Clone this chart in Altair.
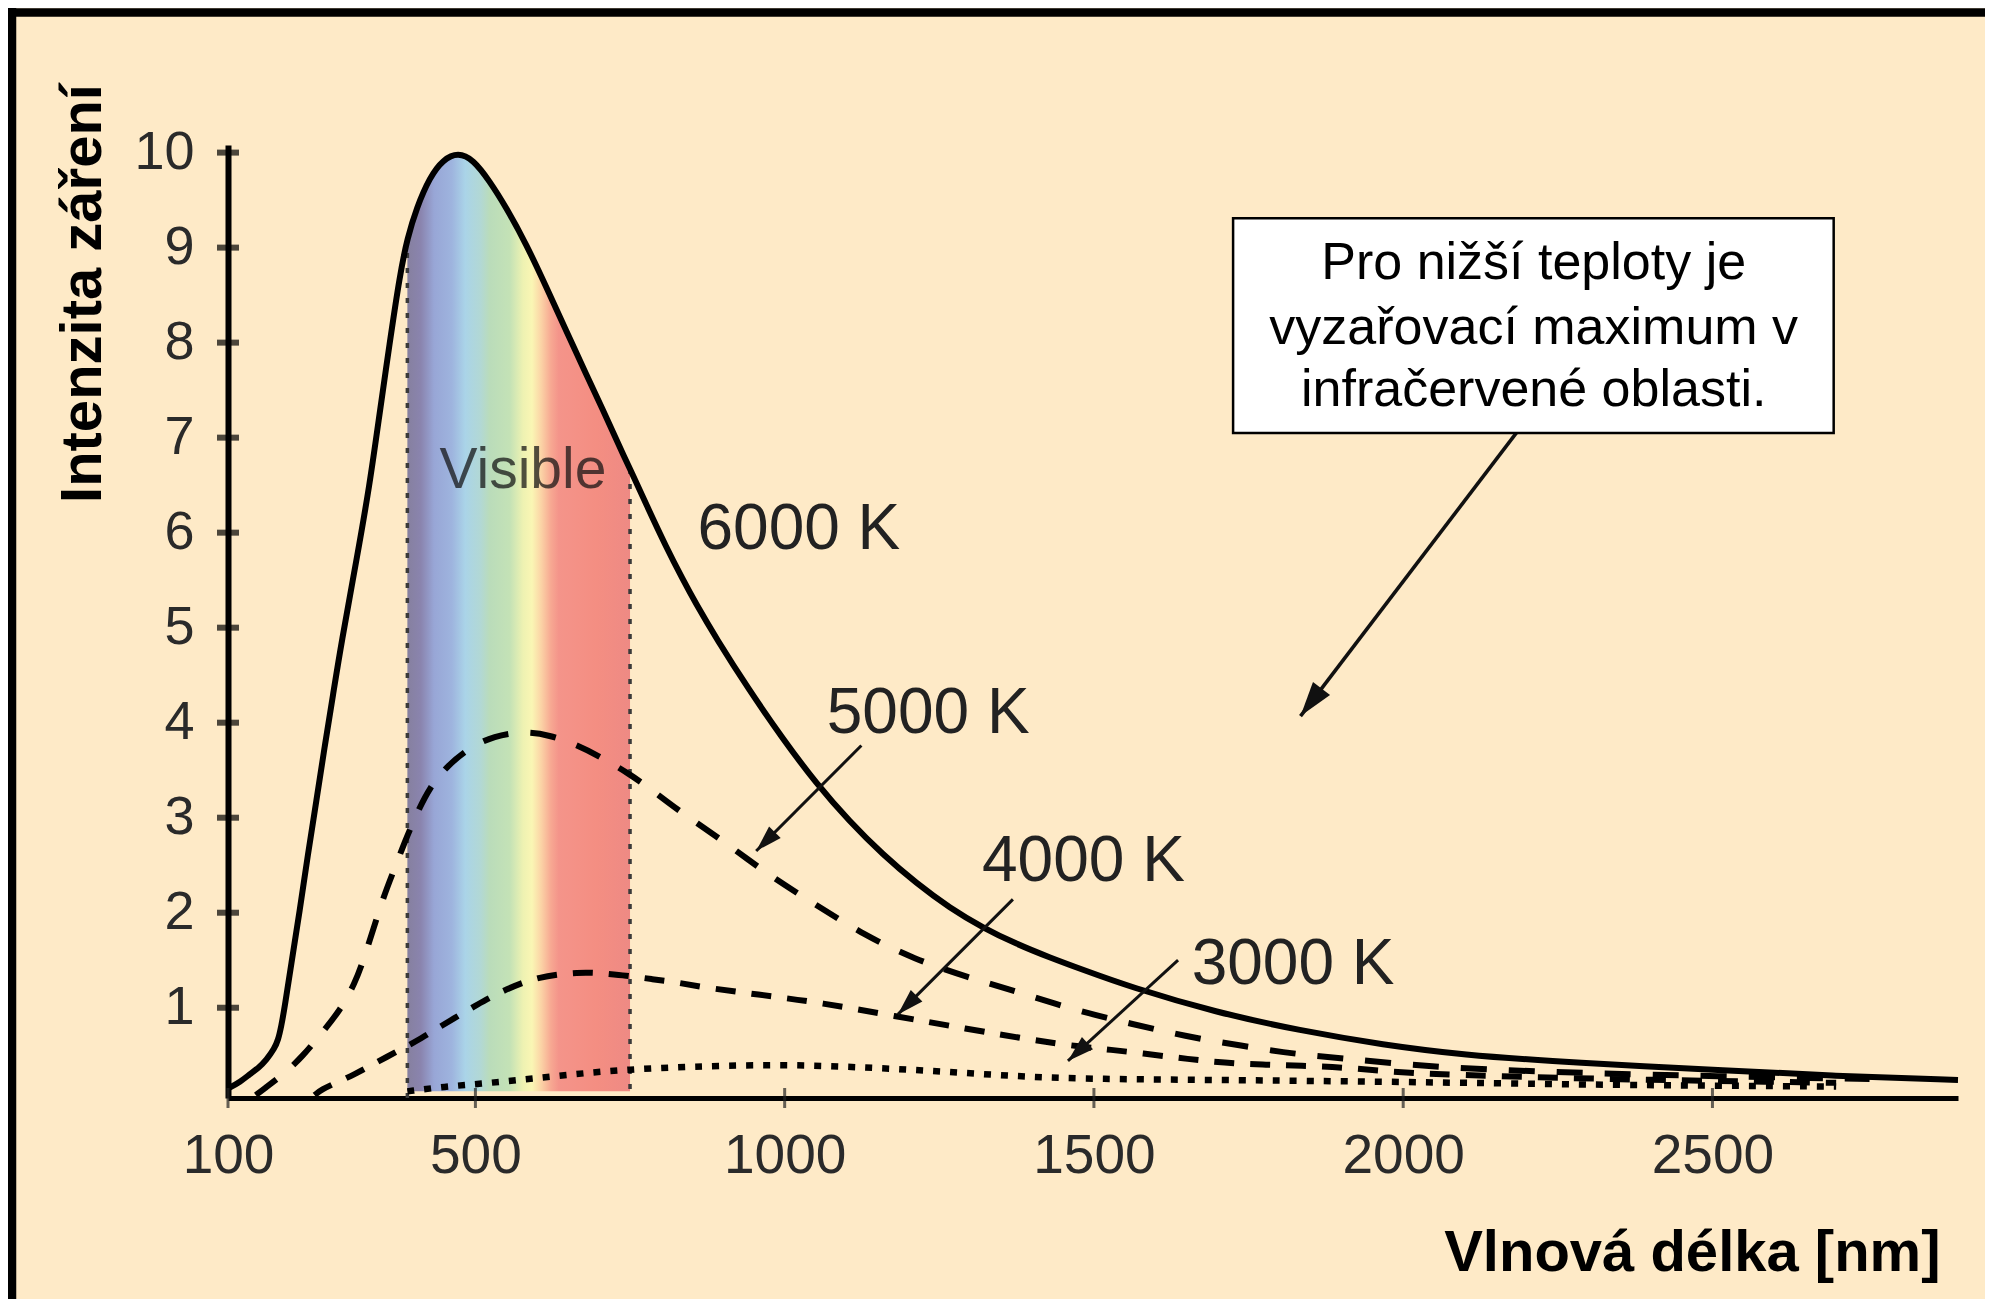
import math
import altair as alt
import pandas as pd

FONT = "Liberation Sans"
BG = "#FEEAC7"

# ---------------- data ----------------
X_TICKS = [100, 500, 1000, 1500, 2000, 2500]
Y_TICKS = [1, 2, 3, 4, 5, 6, 7, 8, 9, 10]

NM_6000 = [100, 120, 135, 150, 162, 175, 181, 186, 192, 202, 216, 229, 243, 256, 270, 283,
           308, 329, 345, 361, 378, 390, 405, 426, 448, 472, 496, 523, 550, 582, 615, 647,
           679, 712, 744, 750, 776, 809, 836, 855, 890, 943, 997, 1051, 1105, 1159, 1213,
           1267, 1321, 1375, 1428, 1482, 1558, 1698, 1833, 1967, 2102, 2237, 2400, 2500,
           2700, 2897]
I_6000 = [0.15, 0.22, 0.30, 0.37, 0.45, 0.57, 0.66, 0.80, 1.02, 1.45, 2.02, 2.61, 3.18, 3.74,
          4.30, 4.83, 5.72, 6.50, 7.25, 7.98, 8.72, 9.10, 9.42, 9.74, 9.93, 10.0, 9.93, 9.70,
          9.42, 9.04, 8.58, 8.12, 7.67, 7.21, 6.75, 6.67, 6.30, 5.84, 5.50, 5.27, 4.88, 4.34,
          3.83, 3.36, 2.96, 2.61, 2.31, 2.05, 1.84, 1.67, 1.53, 1.40, 1.22, 0.95, 0.76, 0.61,
          0.50, 0.44, 0.38, 0.35, 0.28, 0.24]

NM_5000 = [145, 157, 190, 221, 251, 281, 305, 321, 336, 351, 369, 386, 405, 426, 455, 491,
           530, 577, 620, 663, 705, 747, 786, 825, 898, 973, 1049, 1127, 1210, 1296, 1380,
           1472, 1561, 1647, 1738, 1827, 1914, 2005, 2129, 2300, 2500, 2754]
I_5000 = [0.08, 0.14, 0.30, 0.49, 0.73, 0.97, 1.25, 1.54, 1.85, 2.16, 2.46, 2.75, 3.04, 3.32,
          3.55, 3.74, 3.86, 3.91, 3.87, 3.77, 3.63, 3.47, 3.29, 3.09, 2.77, 2.40, 2.09, 1.77,
          1.51, 1.32, 1.16, 0.97, 0.83, 0.70, 0.60, 0.51, 0.46, 0.40, 0.35, 0.31, 0.28, 0.25]

NM_4000 = [240, 251, 278, 305, 330, 356, 385, 413, 440, 466, 492, 518, 546, 574, 604, 634,
           664, 693, 724, 755, 785, 814, 873, 933, 990, 1051, 1180, 1293, 1400, 1477, 1525,
           1590, 1652, 1711, 1773, 1833, 1914, 2000, 2200, 2400, 2600, 2700]
I_4000 = [0.08, 0.14, 0.22, 0.30, 0.39, 0.48, 0.58, 0.68, 0.79, 0.89, 0.99, 1.09, 1.18, 1.26,
          1.32, 1.35, 1.37, 1.37, 1.35, 1.33, 1.30, 1.28, 1.21, 1.16, 1.11, 1.06, 0.91, 0.78,
          0.66, 0.59, 0.56, 0.51, 0.46, 0.42, 0.40, 0.39, 0.37, 0.31, 0.27, 0.24, 0.22, 0.21]

NM_3000 = [390, 450, 510, 570, 630, 690, 750, 810, 900, 1000, 1100, 1200, 1300, 1400, 1500,
           1700, 2000, 2300, 2500, 2700]
I_3000 = [0.12, 0.17, 0.20, 0.24, 0.28, 0.32, 0.35, 0.37, 0.39, 0.40, 0.38, 0.35, 0.31, 0.27,
          0.25, 0.24, 0.22, 0.19, 0.18, 0.17]

VISIBLE_NM = [390, 750]
BAND_BOTTOM = 0.12

CURVE_LABELS = ["6000 K", "5000 K", "4000 K", "3000 K"]
LABEL_NM = [859, 1068, 1319, 1658]
LABEL_I = [5.83, 3.89, 2.33, 1.25]

# leader arrows: start (nm, I) -> tip (nm, I)
ARROW_FROM_NM = [1124, 1369, 1636, 2183]
ARROW_FROM_I = [3.76, 2.14, 1.50, 7.05]
ARROW_TO_NM = [954, 1183, 1458, 1834]
ARROW_TO_I = [2.65, 0.93, 0.44, 4.07]

NOTE_LINES = ["Pro nižší teploty je", "vyzařovací maximum v", "infračervené oblasti."]
NOTE_BOX_NM = [1725, 2696]
NOTE_BOX_I = [7.05, 9.31]
NOTE_TEXT_NM = 2211
NOTE_TEXT_I = [8.667, 7.983, 7.334]

VISIBLE_TEXT_NM = 442
VISIBLE_TEXT_I = 6.47

# ---------------- layout ----------------
XMIN, XMAX = 100, 2897
YMIN, YMAX = 0.05, 10.08
W, H = 1730, 953
SX = W / (XMAX - XMIN)
SY = H / (YMAX - YMIN)

xs = alt.Scale(domain=[XMIN, XMAX], nice=False, zero=False)
ys = alt.Scale(domain=[YMIN, YMAX], nice=False, zero=False)

AX_X = alt.Axis(
    values=X_TICKS, format="d", ticks=False, tickSize=0, grid=False, domainColor="black",
    domainWidth=5, labelFont=FONT, labelFontSize=55, labelColor="#2a2a2a",
    labelPadding=74, labelBaseline="alphabetic", labelFlush=False, labelOverlap=False,
    title="Vlnová délka [nm]", titleFont=FONT, titleFontSize=58, titleFontWeight="bold",
    titleColor="black", titleX=1712, titleY=172, titleAlign="right",
    titleBaseline="alphabetic")
AX_Y = alt.Axis(
    values=Y_TICKS, format="d", ticks=False, tickSize=0, grid=False, domainColor="black",
    domainWidth=6, labelFont=FONT, labelFontSize=54, labelColor="#2a2a2a",
    labelPadding=34, labelAlign="right", labelBaseline="middle", labelFlush=False,
    labelOverlap=False,
    title="Intenzita záření", titleFont=FONT, titleFontSize=58, titleFontWeight="bold",
    titleColor="black", titleAngle=270, titleX=-128, titleY=148, titleAlign="center",
    titleBaseline="alphabetic")


def X(field):
    return alt.X(field, scale=xs, axis=AX_X)


def Y(field):
    return alt.Y(field, scale=ys, axis=AX_Y)


curves = pd.concat([
    pd.DataFrame({"nm": NM_6000, "I": I_6000, "s": "6000"}),
    pd.DataFrame({"nm": NM_5000, "I": I_5000, "s": "5000"}),
    pd.DataFrame({"nm": NM_4000, "I": I_4000, "s": "4000"}),
    pd.DataFrame({"nm": NM_3000, "I": I_3000, "s": "3000"}),
])
df6 = pd.DataFrame({"nm": NM_6000, "I": I_6000})
band = df6[(df6.nm >= VISIBLE_NM[0]) & (df6.nm <= VISIBLE_NM[1])].copy()
band["b"] = BAND_BOTTOM
edges = df6[df6.nm.isin(VISIBLE_NM)].copy()
edges["b"] = YMIN

stops = [(0.00, "#86809F"), (0.06, "#8A84AE"), (0.12, "#98A6D6"), (0.20, "#9EB4DE"),
         (0.26, "#AAD4E8"), (0.33, "#B2D8D4"), (0.37, "#BADCBA"), (0.46, "#C4E2B6"),
         (0.52, "#EEF2B2"), (0.56, "#FAF6B4"), (0.60, "#FBD4A6"), (0.645, "#F7A892"),
         (0.68, "#F4948A"), (0.85, "#F48E82"), (1.00, "#EE8A84")]
grad = alt.LinearGradient(gradient="linear", x1=0, x2=1, y1=0, y2=0,
                          stops=[alt.GradientStop(offset=o, color=c) for o, c in stops])

INTERP = "basis"

spectrum = alt.Chart(band).mark_area(color=grad, interpolate=INTERP).encode(
    x=X("nm:Q"), y=Y("I:Q"), y2=alt.Y2("b:Q"))

edge_rules = alt.Chart(edges).mark_rule(color="#3a3a3a", strokeWidth=3.5, strokeDash=[5, 10]).encode(
    x=X("nm:Q"), y=Y("I:Q"), y2=alt.Y2("b:Q"))


def curve(series, dash, width):
    kw = dict(color="black", strokeWidth=width, interpolate=INTERP, strokeJoin="round")
    if dash:
        kw["strokeDash"] = dash
    return alt.Chart(curves).transform_filter(alt.datum.s == series).mark_line(**kw).encode(
        x=X("nm:Q"), y=Y("I:Q"))


c3000 = curve("3000", [7, 10], 6.5)
c4000 = curve("4000", [20, 16], 6)
c5000 = curve("5000", [26, 22], 6)
c6000 = curve("6000", None, 6)

yticks = alt.Chart(pd.DataFrame({"t": Y_TICKS})).mark_tick(
    orient="horizontal", size=22, thickness=6, color="black").encode(
    y=Y("t:Q"), x=alt.value(0))
xticks = alt.Chart(pd.DataFrame({"t": X_TICKS})).mark_tick(
    orient="vertical", size=20, thickness=3, color="#222").encode(
    x=X("t:Q"), y=alt.value(H))

labels = alt.Chart(pd.DataFrame({"nm": LABEL_NM, "I": LABEL_I, "t": CURVE_LABELS})).mark_text(
    align="left", baseline="alphabetic", font=FONT, fontSize=64, color="#222").encode(
    x=X("nm:Q"), y=Y("I:Q"), text="t:N")

visible = alt.Chart(pd.DataFrame({"nm": [VISIBLE_TEXT_NM], "I": [VISIBLE_TEXT_I], "t": ["Visible"]})).mark_text(
    align="left", baseline="alphabetic", font=FONT, fontSize=57, color="#111", opacity=0.72).encode(
    x=X("nm:Q"), y=Y("I:Q"), text="t:N")

arrows = pd.DataFrame({"x": ARROW_FROM_NM, "y": ARROW_FROM_I, "x2": ARROW_TO_NM, "y2": ARROW_TO_I})
arrows["w"] = [3, 3, 3, 3.6]
ang = []
for a, b, c, d in zip(ARROW_FROM_NM, ARROW_FROM_I, ARROW_TO_NM, ARROW_TO_I):
    dx = (c - a) * SX
    dy = -(d - b) * SY
    ang.append(math.degrees(math.atan2(dx, -dy)) % 360)
arrows["ang"] = ang
arrows["size"] = [700, 700, 700, 1200]

leaders = alt.Chart(arrows).mark_rule(color="#111").encode(
    x=X("x:Q"), y=Y("y:Q"), x2=alt.X2("x2:Q"), y2=alt.Y2("y2:Q"),
    strokeWidth=alt.StrokeWidth("w:Q", scale=None))

heads = alt.Chart(arrows).mark_point(
    shape="M0,0L0.62,2L-0.62,2Z", filled=True, color="#111", opacity=1, strokeWidth=0).encode(
    x=X("x2:Q"), y=Y("y2:Q"),
    angle=alt.Angle("ang:Q", scale=None),
    size=alt.Size("size:Q", scale=None))

box = alt.Chart(pd.DataFrame({"x": [NOTE_BOX_NM[0]], "x2": [NOTE_BOX_NM[1]],
                              "y": [NOTE_BOX_I[0]], "y2": [NOTE_BOX_I[1]]})).mark_rect(
    fill="white", stroke="black", strokeWidth=2.5).encode(
    x=X("x:Q"), x2="x2:Q", y=Y("y:Q"), y2="y2:Q")

note = alt.Chart(pd.DataFrame({"nm": [NOTE_TEXT_NM] * 3, "I": NOTE_TEXT_I, "t": NOTE_LINES})).mark_text(
    align="center", baseline="alphabetic", font=FONT, fontSize=52, color="black").encode(
    x=X("nm:Q"), y=Y("I:Q"), text="t:N")

one = pd.DataFrame({"a": [0]})
frame_left = alt.Chart(one).mark_rule(color="black", strokeWidth=8.5).encode(
    x=alt.value(-216), y=alt.value(-140), y2=alt.value(H + 220))
frame_top = alt.Chart(one).mark_rule(color="black", strokeWidth=8.5).encode(
    y=alt.value(-132.5), x=alt.value(-220), x2=alt.value(W + 40))

chart = alt.layer(
    spectrum, edge_rules, c3000, c4000, c5000, c6000, yticks, xticks,
    labels, visible, leaders, heads, box, note, frame_left, frame_top,
).properties(
    width=W, height=H,
    padding={"left": 220, "top": 137, "right": 27, "bottom": 201},
    autosize=alt.AutoSizeParams(type="none"),
).configure(background=BG).configure_view(strokeWidth=0)

chart.save("out.html", embed_options={"renderer": "svg", "actions": False})
